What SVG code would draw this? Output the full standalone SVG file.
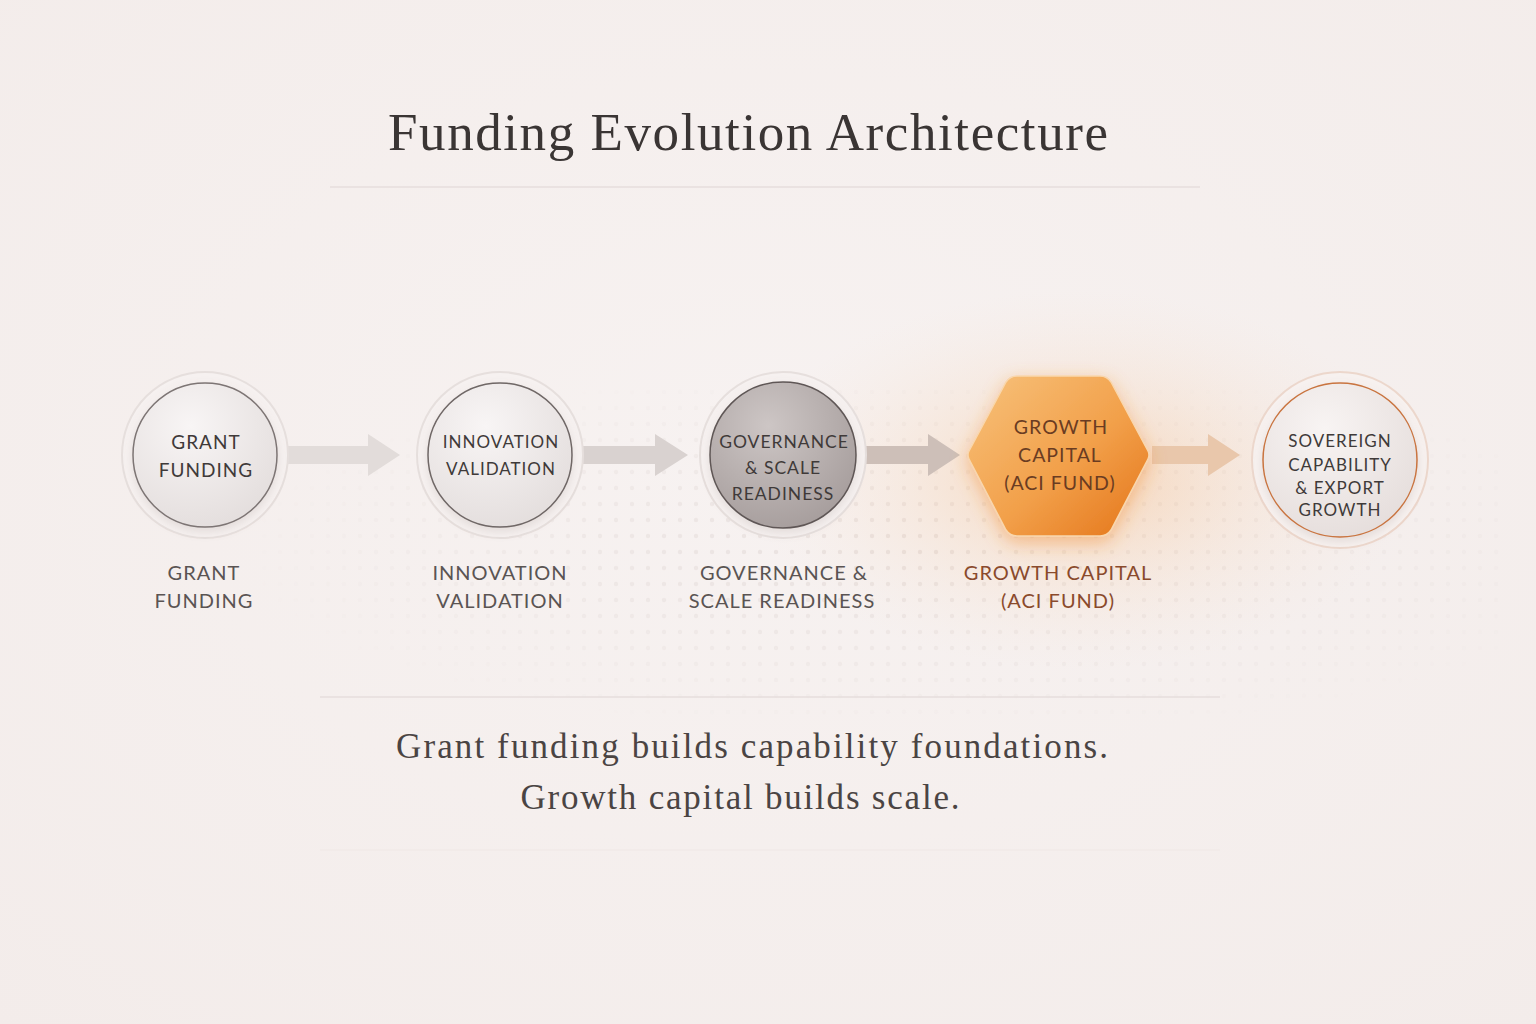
<svg xmlns="http://www.w3.org/2000/svg" width="1536" height="1024" viewBox="0 0 1536 1024">
<defs>
  <radialGradient id="bg" cx="0.5" cy="0.45" r="0.75">
    <stop offset="0" stop-color="#f7f2f1"/>
    <stop offset="1" stop-color="#f3ecea"/>
  </radialGradient>
  <radialGradient id="orangeGlow" cx="0.5" cy="0.5" r="0.5">
    <stop offset="0" stop-color="#f6b87e" stop-opacity="0.5"/>
    <stop offset="0.5" stop-color="#f7cba3" stop-opacity="0.22"/>
    <stop offset="1" stop-color="#f7e0cf" stop-opacity="0"/>
  </radialGradient>
  <radialGradient id="circFill" cx="0.4" cy="0.3" r="0.8">
    <stop offset="0" stop-color="#f8f5f5"/>
    <stop offset="1" stop-color="#e2dcdb"/>
  </radialGradient>
  <radialGradient id="circDark" cx="0.4" cy="0.3" r="0.8">
    <stop offset="0" stop-color="#cdc6c5"/>
    <stop offset="1" stop-color="#a39a99"/>
  </radialGradient>
  <radialGradient id="circLast" cx="0.4" cy="0.3" r="0.8">
    <stop offset="0" stop-color="#f8f4f3"/>
    <stop offset="1" stop-color="#e4dcda"/>
  </radialGradient>
  <linearGradient id="hexFill" x1="0" y1="0" x2="1" y2="1">
    <stop offset="0" stop-color="#f7c27c"/>
    <stop offset="0.55" stop-color="#f2a04a"/>
    <stop offset="1" stop-color="#e47418"/>
  </linearGradient>
  <pattern id="dots" width="16" height="16" patternUnits="userSpaceOnUse">
    <circle cx="8" cy="8" r="2.2" fill="#e6dedc"/>
  </pattern>
  <radialGradient id="dotFade" cx="0.55" cy="0.5" r="0.55">
    <stop offset="0" stop-color="#fff" stop-opacity="0.95"/>
    <stop offset="1" stop-color="#fff" stop-opacity="0"/>
  </radialGradient>
  <mask id="dotMask">
    <rect x="240" y="380" width="1260" height="340" fill="url(#dotFade)"/>
  </mask>
  <filter id="soft" x="-30%" y="-30%" width="160%" height="160%">
    <feDropShadow dx="0" dy="4" stdDeviation="5" flood-color="#8a7a76" flood-opacity="0.18"/>
  </filter>
  <filter id="hexGlow" x="-40%" y="-40%" width="180%" height="180%">
    <feDropShadow dx="0" dy="6" stdDeviation="9" flood-color="#f08a2a" flood-opacity="0.45"/>
  </filter>
  <style>
    .title{font-family:"Liberation Serif","DejaVu Serif",serif;fill:#3a3534}
    .sub{font-family:"Liberation Serif","DejaVu Serif",serif;fill:#4a4443;font-size:35px}
    .inner{font-family:Lato,"Open Sans",sans-serif;fill:#3f3a39;text-anchor:middle;letter-spacing:1px}
    .lab{font-family:Lato,"Open Sans",sans-serif;fill:#5a5453;text-anchor:middle;font-size:20px;letter-spacing:1px}
    .labO{font-family:Lato,"Open Sans",sans-serif;fill:#8a4a2c;text-anchor:middle;font-size:20px;letter-spacing:1px}
    .ring{fill:#f6f1f0;stroke:#e6dfdd;stroke-width:2}
    .rule{stroke:#e6dedc;stroke-width:1.5}
  </style>
</defs>

<rect width="1536" height="1024" fill="url(#bg)"/>
<rect x="240" y="380" width="1260" height="340" fill="url(#dots)" mask="url(#dotMask)"/>
<ellipse cx="1080" cy="480" rx="330" ry="190" fill="url(#orangeGlow)"/>

<text class="title" x="748" y="150" font-size="53" text-anchor="middle" textLength="720" lengthAdjust="spacing">Funding Evolution Architecture</text>
<line class="rule" x1="330" y1="187" x2="1200" y2="187"/>

<g id="connectors">
  <path d="M288,446 H368 V434 L400,455 L368,476 V464 H288 Z" fill="#e2dcda"/>
  <path d="M580,446 H655 V434 L688,455 L655,476 V464 H580 Z" fill="#d9d2d0"/>
  <path d="M865,446 H928 V434 L960,455 L928,476 V464 H865 Z" fill="#cdbfb8"/>
  <path d="M1152,446 H1208 V434 L1240,455 L1208,476 V464 H1152 Z" fill="#e9c7ab"/>
</g>

<g id="node-grant">
  <circle class="ring" cx="205" cy="455" r="83"/>
  <circle cx="205" cy="455" r="72" fill="url(#circFill)" stroke="#7d7574" stroke-width="1.5" filter="url(#soft)"/>
  <text class="inner" font-size="19"><tspan x="206" y="449">GRANT</tspan><tspan x="206" y="477">FUNDING</tspan></text>
  <text class="lab"><tspan x="204" y="580">GRANT</tspan><tspan x="204" y="608">FUNDING</tspan></text>
</g>

<g id="node-innovation">
  <circle class="ring" cx="500" cy="455" r="83"/>
  <circle cx="500" cy="455" r="72" fill="url(#circFill)" stroke="#6f6766" stroke-width="1.5" filter="url(#soft)"/>
  <text class="inner" font-size="17"><tspan x="501" y="448">INNOVATION</tspan><tspan x="501" y="475">VALIDATION</tspan></text>
  <text class="lab"><tspan x="500" y="580">INNOVATION</tspan><tspan x="500" y="608">VALIDATION</tspan></text>
</g>

<g id="node-governance">
  <circle class="ring" cx="783" cy="455" r="83"/>
  <circle cx="783" cy="455" r="73" fill="url(#circDark)" stroke="#5f5756" stroke-width="1.5" filter="url(#soft)"/>
  <text class="inner" font-size="17.5"><tspan x="784" y="448">GOVERNANCE</tspan><tspan x="783" y="474">&amp; SCALE</tspan><tspan x="783" y="500">READINESS</tspan></text>
  <text class="lab"><tspan x="784" y="580">GOVERNANCE &amp;</tspan><tspan x="782" y="608">SCALE READINESS</tspan></text>
</g>

<g id="node-growth">
  <path d="M969,451 L1006,382 Q1010,376 1017,376 H1100 Q1107,376 1111,382 L1148,451 Q1150,455 1148,459 L1111,530 Q1107,536 1100,536 H1017 Q1010,536 1006,530 L969,459 Q967,455 969,451 Z" fill="url(#hexFill)" stroke="#f9d7ad" stroke-width="1.5" filter="url(#hexGlow)"/>
  <text class="inner" font-size="19.5" style="fill:#6a3c22"><tspan x="1061" y="434">GROWTH</tspan><tspan x="1060" y="462">CAPITAL</tspan><tspan x="1060" y="490">(ACI FUND)</tspan></text>
  <text class="labO"><tspan x="1058" y="580">GROWTH CAPITAL</tspan><tspan x="1058" y="608">(ACI FUND)</tspan></text>
</g>

<g id="node-sovereign">
  <circle cx="1340" cy="460" r="88" fill="#f7f1ef" stroke="#ecd7cc" stroke-width="2"/>
  <circle cx="1340" cy="460" r="77" fill="url(#circLast)" stroke="#c9743f" stroke-width="1.5" filter="url(#soft)"/>
  <text class="inner" font-size="17"><tspan x="1340" y="447">SOVEREIGN</tspan><tspan x="1340" y="471">CAPABILITY</tspan><tspan x="1340" y="494">&amp; EXPORT</tspan><tspan x="1340" y="516">GROWTH</tspan></text>
</g>

<line class="rule" x1="320" y1="697" x2="1220" y2="697"/>
<text class="sub" x="752" y="758" text-anchor="middle" textLength="712" lengthAdjust="spacing">Grant funding builds capability foundations.</text>
<text class="sub" x="740" y="809" text-anchor="middle" textLength="439" lengthAdjust="spacing">Growth capital builds scale.</text>
<line x1="320" y1="850" x2="1220" y2="850" stroke="#efe8e6" stroke-width="1.2"/>
</svg>
